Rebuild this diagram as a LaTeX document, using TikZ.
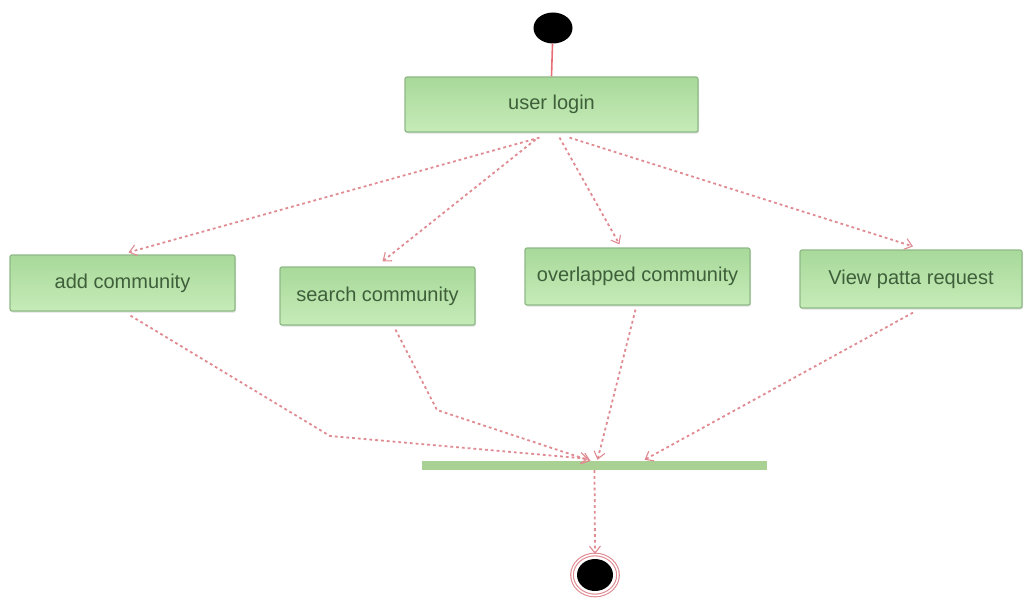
\documentclass[tikz,border=0pt]{standalone}
\usepackage{fontspec}
\setmainfont{Liberation Sans}
\usetikzlibrary{arrows.meta,shadows,shapes.geometric}
\definecolor{boxline}{HTML}{8DB985}
\definecolor{boxtop}{HTML}{A8D99A}
\definecolor{boxbot}{HTML}{C6EBB8}
\definecolor{boxtext}{HTML}{3E5F3A}
\definecolor{flow}{HTML}{E08A92}
\definecolor{barfill}{HTML}{A9D193}
\begin{document}
\begin{tikzpicture}[x=1pt,y=-1pt,
  activity/.style={draw=boxline,line width=1.2pt,rounded corners=2pt,
    top color=boxtop,bottom color=boxbot,text=boxtext,
    font=\fontsize{20}{23}\selectfont,inner sep=0pt,
    drop shadow={shadow xshift=1pt,shadow yshift=-1.5pt,opacity=0.25}},
  flowline/.style={draw=flow,line width=1.8pt,dash pattern=on 2.8pt off 3pt,
    -{Straight Barb[length=7pt,width=11pt,line width=1.1pt]}},
]
\useasboundingbox (0,0) rectangle (1024,599);

% initial and final states
\node[ellipse,fill=black,minimum width=39pt,minimum height=31pt,inner sep=0pt] (start) at (553,28) {};
\node[ellipse,draw=flow,double=white,double distance=1.5pt,line width=1.1pt,minimum width=46pt,minimum height=41pt,inner sep=0pt] (finish) at (595,575) {};
\node[ellipse,fill=black,minimum width=36pt,minimum height=32pt,inner sep=0pt] (finishdot) at (595,575) {};

% activities
\node[activity,minimum width=293pt,minimum height=55pt] (login) at (551.5,104.5) {user login};
\node[activity,minimum width=225pt,minimum height=56pt] (add) at (122.5,283) {add community};
\node[activity,minimum width=195pt,minimum height=58pt] (search) at (377.5,296) {search community};
\node[activity,minimum width=225pt,minimum height=57pt] (over) at (637.5,276.5) {overlapped community};
\node[activity,minimum width=222pt,minimum height=58pt] (view) at (911,279) {View patta request};

% join bar
\node[fill=barfill,minimum width=345pt,minimum height=9pt,inner sep=0pt] (join) at (594.5,465.5) {};

% bends of the incoming flows
\coordinate (addbend) at (330,436);
\coordinate (searchbend) at (437,410);

% flows
\draw[draw=flow!80!red,line width=1.6pt] (start) -- (login.north);
\draw[flowline] ([xshift=-12pt,yshift=-5pt]login.south) -- ([xshift=6pt,yshift=2pt]add.north);
\draw[flowline] ([xshift=-16pt,yshift=-7pt]login.south) -- ([xshift=5pt,yshift=5pt]search.north);
\draw[flowline] ([xshift=8pt,yshift=-5pt]login.south) -- ([xshift=-18pt,yshift=3pt]over.north);
\draw[flowline] ([xshift=18pt,yshift=-5pt]login.south) -- ([xshift=2pt,yshift=3pt]view.north);
\draw[flowline] ([xshift=8pt,yshift=-4pt]add.south) -- (addbend) -- ([xshift=-6pt,yshift=2pt]join.north);
\draw[flowline] ([xshift=18pt,yshift=-4pt]search.south) -- (searchbend) -- ([xshift=-4pt]join.north);
\draw[flowline] ([xshift=-2pt,yshift=-4pt]over.south) -- ([xshift=3pt,yshift=1pt]join.north);
\draw[flowline] ([xshift=2pt,yshift=-4pt]view.south) -- ([xshift=50pt,yshift=1pt]join.north);
\draw[flowline] (join.south) -- (finish.north);
\end{tikzpicture}
\end{document}
